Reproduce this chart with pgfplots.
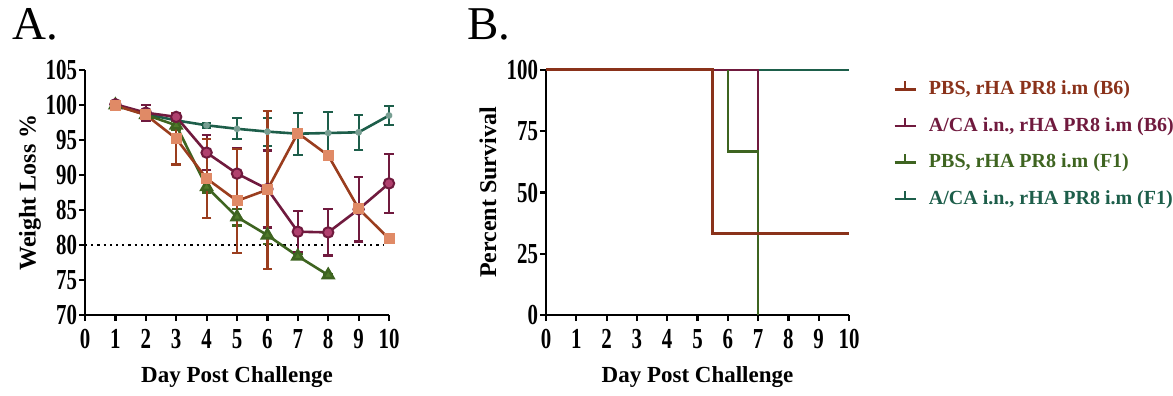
\documentclass[border=0pt]{standalone}
\usepackage{pgfplots}
\pgfplotsset{compat=1.18}
\usepackage{fontspec}
\setmainfont{Liberation Serif}
\newfontfamily\tickfont[FakeStretch=0.72]{Liberation Serif}
\definecolor{c1}{HTML}{9A3D1E}
\definecolor{c1d}{HTML}{8A321A}
\definecolor{c1f}{HTML}{E08A66}
\definecolor{c2}{HTML}{701A3E}
\definecolor{c2f}{HTML}{B0406E}
\definecolor{c3}{HTML}{3E6420}
\definecolor{c3f}{HTML}{4F7A2A}
\definecolor{c4}{HTML}{1D5E4A}
\pgfplotsset{
  gp/.style={
    scale only axis,
    width=152pt, height=122.5pt,
    axis lines=left,
    axis line style={-, line width=1.3pt, black},
    tick align=outside,
    major tick length=3pt,
    every tick/.style={black, line width=1.1pt},
    tick label style={font=\tickfont\bfseries\fontsize{14.5}{16}\selectfont},
    yticklabel style={inner sep=0.8pt},
    xticklabel style={inner sep=1pt, yshift=-3pt},
    /pgf/number format/assume math mode=true,
    label style={font=\bfseries\fontsize{11.5}{13}\selectfont},
    xlabel style={at={(axis description cs:0.5,0)}, anchor=center, yshift=-31pt},
    xmin=0, xmax=10, xtick={0,...,10},
    clip=false,
  },
  ebar/.style={error bars/.cd, y dir=both, y explicit,
    error bar style={line width=1.1pt},
    error mark options={line width=1.1pt, mark size=2.4pt, rotate=90}},
}
\begin{document}
\begin{tikzpicture}
\useasboundingbox (0,0) rectangle (586.5pt,198pt);
\node[anchor=base west, inner sep=0pt] at (6pt,178pt) {\fontsize{23.5}{28}\selectfont A.};
\node[anchor=base west, inner sep=0pt] at (233.5pt,178pt) {\fontsize{23.5}{28}\selectfont B.};
% Panel A
\begin{axis}[gp, at={(42.5pt,40.5pt)}, anchor=origin,
  ymin=70, ymax=105, ytick={70,75,...,105},
  xlabel={Day Post Challenge}, ylabel={Weight Loss \%},
  ylabel style={at={(axis description cs:0,0.5)}, rotate=0, anchor=center, xshift=0pt, yshift=27.5pt, font=\bfseries\fontsize{12}{14}\selectfont}]
\addplot[black, dotted, line width=1.1pt, forget plot] coordinates {(0,80) (9.85,80)};
% A/CA F1 (teal)
\addplot[c4, line width=1.3pt, mark=asterisk, mark size=1.6pt, mark options={c4!60}, ebar] coordinates {
(1,100) +- (0,0.3)
(2,98.7) +- (0,0.5)
(3,97.8) +- (0,0.5)
(4,97.1) +- (0,0.3)
(5,96.6) +- (0,1.5)
(6,96.2) +- (0,2.0)
(7,95.9) +- (0,3.0)
(8,96.0) +- (0,3.0)
(9,96.1) +- (0,2.5)
(10,98.5) +- (0,1.4)
};
% PBS F1 (green)
\addplot[c3, line width=1.3pt, mark=triangle*, mark size=3pt, mark options={fill=c3f, draw=c3}, ebar] coordinates {
(1,100) +- (0,0.2)
(2,98.6) +- (0,0.4)
(3,97.1) +- (0,0.6)
(4,88.3) +- (0,0.8)
(5,84.0) +- (0,1.2)
(6,81.4) +- (0,1.2)
(7,78.4) +- (0,0.4)
(8,75.7) +- (0,0.2)
};
% A/CA B6 (maroon)
\addplot[c2, line width=1.3pt, mark=*, mark size=2.6pt, mark options={fill=c2f, draw=c2, line width=1pt}, ebar] coordinates {
(1,100.1) +- (0,0.3)
(2,98.9) +- (0,1.1)
(3,98.3) +- (0,0.4)
(4,93.2) +- (0,2.5)
(5,90.2) +- (0,3.7)
(6,88.0) +- (0,5.5)
(7,81.9) +- (0,2.9)
(8,81.8) +- (0,3.3)
(9,85.1) +- (0,4.6)
(10,88.8) +- (0,4.2)
};
% PBS B6 (orange-brown)
\addplot[c1, line width=1.3pt, mark=square*, mark size=2.1pt, mark options={fill=c1f, draw=c1f}, ebar] coordinates {
(1,99.9) +- (0,0.3)
(2,98.6) +- (0,0.5)
(3,95.2) +- (0,3.7)
(4,89.5) +- (0,5.6)
(5,86.3) +- (0,7.4)
(6,87.9) +- (0,11.3)
(7,96.0) +- (0,0)
(8,92.8) +- (0,0)
(9,85.2) +- (0,0)
(10,80.9) +- (0,0)
};
\end{axis}
% Panel B
\begin{axis}[gp, at={(273pt,40.5pt)}, anchor=origin, width=151.5pt,
  ymin=0, ymax=100, ytick={0,25,50,75,100},
  xlabel={Day Post Challenge}, ylabel={Percent Survival},
  ylabel style={at={(axis description cs:0,0.5)}, rotate=0, anchor=center, xshift=0pt, yshift=29pt, font=\bfseries\fontsize{12}{14}\selectfont},
  legend style={draw=none, fill=none, at={(1.145,0.965)}, anchor=north west,
    font=\bfseries\fontsize{10}{12}\selectfont, row sep=7.8pt,
    inner sep=0pt, nodes={inner sep=1pt},
    /tikz/every odd column/.append style={column sep=5pt}},
  legend cell align=left]
\addlegendimage{c1d, legend image code/.code={\draw[c1d, line width=1.3pt] (0pt,0pt) -- (10.5pt,0pt); \draw[c1d, line width=1.3pt] (5.25pt,0pt) -- (5.25pt,4pt);}}
\addlegendentry[text=c1d]{PBS, rHA PR8 i.m (B6)}
\addlegendimage{c2, legend image code/.code={\draw[c2, line width=1.3pt] (0pt,0pt) -- (10.5pt,0pt); \draw[c2, line width=1.3pt] (5.25pt,0pt) -- (5.25pt,4pt);}}
\addlegendentry[text=c2]{A/CA i.n., rHA PR8 i.m (B6)}
\addlegendimage{c3, legend image code/.code={\draw[c3, line width=1.3pt] (0pt,0pt) -- (10.5pt,0pt); \draw[c3, line width=1.3pt] (5.25pt,0pt) -- (5.25pt,4pt);}}
\addlegendentry[text=c3]{PBS, rHA PR8 i.m (F1)}
\addlegendimage{c4, legend image code/.code={\draw[c4, line width=1.3pt] (0pt,0pt) -- (10.5pt,0pt); \draw[c4, line width=1.3pt] (5.25pt,0pt) -- (5.25pt,4pt);}}
\addlegendentry[text=c4]{A/CA i.n., rHA PR8 i.m (F1)}
\addplot[c4, line width=0.9pt, forget plot] coordinates {(0,100) (10,100)};
\addplot[c2, line width=1.2pt, forget plot] coordinates {(0,100) (7,100) (7,33.3) (10,33.3)};
\addplot[c3, line width=1.2pt, forget plot] coordinates {(6,100) (6,66.7) (7,66.7) (7,0)};
\addplot[c1d, line width=1.5pt, forget plot] coordinates {(0,100) (5.5,100) (5.5,33.3) (10,33.3)};
\end{axis}
\end{tikzpicture}
\end{document}
